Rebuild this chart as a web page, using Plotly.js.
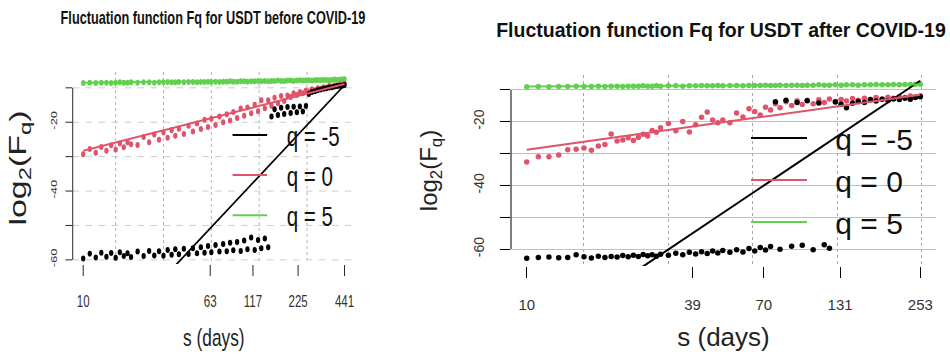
<!DOCTYPE html>
<html><head><meta charset="utf-8">
<script src="https://cdn.plot.ly/plotly-3.0.1.min.js"></script>
<style>
html,body{margin:0;padding:0;background:#fff;width:950px;height:358px;overflow:hidden;}
#left{position:absolute;left:0;top:0;width:555.6px;height:358px;transform:scaleX(0.72);transform-origin:0 0;}
#right{position:absolute;left:400px;top:0;width:550px;height:358px;}
</style></head><body>
<div id="left"></div><div id="right"></div>
<script>
// ---------- data: before COVID-19 ----------
const sBefore = [10,11,12,13,14,15,16,17,18,19,20,22,24,26,28,30,32,34,36,38,40,43,46,49,52,55,58,61,64,68,72,76,80,84,88,93,98,103,108,114,120,126,132,139,146,153,160,168,176,184,193,202,211,221,231,241,252,263,275,287,299,312,325,339,353,367,382,397,413,429,441];
const qNeg5Before = [-59.6,-58.2,-59.3,-57.9,-59.1,-58.0,-59.4,-57.8,-58.9,-58.1,-59.2,
 -57.6,-58.9,-57.4,-58.7,-57.5,-58.8,-57.1,-58.5,-56.9,-58.4,
 -56.8,-58.3,-56.6,-58.1,-56.3,-57.9,-56.0,
 -57.8,-55.7,-57.6,-55.4,-57.5,-55.0,-57.2,
 -54.8,-57.4,-54.4,-56.9,
 -53.5,-57.1,-54.2,-56.6,
 -53.8,-56.3,-18.3,-16.2,
 -17.9,-15.8,-17.6,
 -15.6,-17.3,-15.5,-17.1,-15.4,-16.9,-15.3,-11.8,-11.2,-11.0,-10.7,-10.5,-10.3,-10.1,-9.9,-9.8,-9.6,-9.5,-9.4,-9.3,-9.2];
const q0Before = [-29.3,-27.8,-28.9,-27.2,-28.3,-26.7,-27.9,-26.2,-27.3,-25.8,-26.4,
 -26.6,-24.3,-25.8,-23.6,-25.1,-23.0,-24.5,-22.3,-23.9,-21.9,
 -23.4,-21.0,-22.7,-20.4,-22.0,-19.3,-21.4,
 -19.0,-20.8,-18.3,-20.0,-17.7,-19.5,-17.0,
 -18.8,-16.0,-18.1,-15.7,
 -17.4,-14.9,-16.8,-13.6,
 -15.9,-13.6,-15.2,-12.9,
 -14.5,-12.4,-13.8,
 -12.2,-12.7,-11.6,-12.1,-11.2,-11.6,-10.8,-11.1,-10.4,-10.7,-10.1,-10.3,-9.8,-10.0,-9.5,-9.7,-9.3,-9.4,-9.0,-9.1,-8.8];
const q5Before = [-8.6,-8.5,-8.6,-8.5,-8.5,-8.6,-8.5,-8.4,-8.5,-8.5,-8.4,
 -8.5,-8.4,-8.4,-8.5,-8.4,-8.4,-8.3,-8.4,-8.4,-8.3,
 -8.4,-8.3,-8.3,-8.4,-8.3,-8.3,-8.2,
 -8.3,-8.2,-8.3,-8.2,-8.2,-8.1,-8.2,
 -8.2,-8.1,-8.1,-8.2,
 -8.1,-8.1,-8.0,-8.1,
 -8.0,-8.1,-8.0,-8.0,
 -7.9,-8.0,-8.0,
 -7.9,-7.9,-8.0,-7.9,-7.8,-7.9,-7.8,-7.8,-7.9,-7.8,-7.7,-7.8,-7.7,-7.7,-7.8,-7.7,-7.6,-7.7,-7.6,-7.6,-7.5];
const fitSBefore = [10, 441];
const fitNeg5Before = [-90.2, -9.2];
const fit0Before = [-28.3, -8.9];
const fit5Before = [-8.5, -7.6];
const xTicksBefore = [10, 63, 117, 225, 441];

// ---------- data: after COVID-19 ----------
const sAfter = [10,11,12,13,14,15,16,17,18,19,20,21,22,23,24,25,26,27,28,29,30,32,34,36,38,40,42,44,46,48,50,53,56,59,62,65,68,71,74,77,80,84,88,92,96,100,105,110,115,120,126,132,138,145,152,160,168,176,185,194,203,213,223,233,243,253];
const qNeg5After = [-62.9,-62.6,-62.5,-62.7,-62.6,-61.8,-62.4,-62.8,-62.2,-62.6,-62.3,-62.5,-62.0,-62.4,-61.9,-62.3,-61.7,-62.1,-61.8,-62.2,-61.6,
 -61.9,-61.3,-61.8,-61.0,-61.5,-60.8,-61.4,-60.6,-61.2,-60.4,
 -61.0,-60.2,-60.9,-59.8,-60.6,-59.5,-60.3,-59.2,-13.7,-60.0,
 -13.2,-59.1,-13.9,-58.8,-13.4,
 -60.2,-14.1,-58.6,-59.7,
 -13.8,-14.5,-15.6,
 -14.2,-13.6,-13.9,-13.1,-13.5,-12.9,-13.3,-12.8,-13.0,-12.6,-12.9,-12.4,-12.1];
const q0After = [-32.6,-31.0,-31.0,-30.4,-28.8,-28.6,-28.2,-28.9,-27.6,-27.1,-23.8,-26.0,-25.7,-25.0,-25.9,-24.9,-23.9,-24.5,-22.7,-23.3,-21.9,
 -20.5,-22.8,-19.9,-23.2,-20.9,-18.6,-16.9,-19.4,-20.3,-19.4,
 -20.3,-17.2,-18.5,-15.9,-16.8,-17.9,-15.4,-16.3,-14.3,-15.6,
 -13.7,-14.9,-13.4,-14.6,-13.2,
 -14.3,-13.1,-13.9,-12.8,
 -13.6,-13.0,-13.5,
 -12.7,-13.2,-12.6,-12.9,-12.4,-12.8,-12.3,-12.6,-12.1,-12.4,-11.9,-12.2,-11.8];
const q5After = [-9.0,-8.9,-9.0,-8.9,-8.9,-8.8,-8.9,-8.9,-8.8,-8.9,-8.8,-8.8,-8.9,-8.8,-8.8,-8.8,-8.7,-8.8,-8.8,-8.7,-8.8,
 -8.7,-8.7,-8.8,-8.7,-8.7,-8.6,-8.7,-8.7,-8.6,-8.7,
 -8.6,-8.6,-8.7,-8.6,-8.6,-8.6,-8.5,-8.6,-8.6,-8.5,
 -8.6,-8.5,-8.5,-8.6,-8.5,
 -8.5,-8.4,-8.5,-8.5,
 -8.4,-8.5,-8.4,
 -8.4,-8.5,-8.4,-8.4,-8.3,-8.4,-8.4,-8.3,-8.4,-8.3,-8.3,-8.2,-8.2];
const fitSAfter = [10, 253];
const fitNeg5After = [-89.9, -7.1];
const fit0After = [-28.8, -11.5];
const fit5After = [-8.9, -8.3];
const xTicksAfter = [10, 39, 70, 131, 253];

// ---------- shared axis data ----------
const yLabelTicks = [-20, -40, -60];
const yPlainTicks = [-10, -30, -50];
const gridS = [16, 32, 64, 128, 256, 512];
const seriesNames = ['q = -5', 'q = 0', 'q = 5'];
const COLORS = ['#000000', '#DF536B', '#61D04F'];
const FONT = 'Liberation Sans, Arial, Helvetica, sans-serif';
const LEG_PAD = '\u2002\u00A0';

function buildTraces(s, vals, fitS, fits, msize) {
  const tr = [];
  [2, 1, 0].forEach(i => tr.push({
    x: s, y: vals[i], type: 'scatter', mode: 'markers', showlegend: false,
    marker: {color: COLORS[i], size: msize}
  }));
  [0, 1, 2].forEach(i => tr.push({
    x: fitS, y: fits[i], type: 'scatter', mode: 'lines', name: LEG_PAD + seriesNames[i],
    legendgroup: 'g' + i, line: {color: COLORS[i], width: 2}
  }));
  return tr;
}

function buildLayout(o) {
  const gridY = {showgrid: true, gridcolor: o.hGridColor, griddash: o.hGridDash, gridwidth: 1};
  return {
    width: o.W, height: 358, paper_bgcolor: '#fff', plot_bgcolor: '#fff',
    margin: {l: o.l, r: o.r, t: o.t, b: o.b, pad: 0, autoexpand: false},
    showlegend: true,
    title: {text: o.title, x: o.titleX, xref: 'container', y: o.titleY, yref: 'container',
      xanchor: 'center', yanchor: 'middle', font: {family: FONT, size: o.titleSize, weight: 700, color: '#111'}},
    xaxis: {type: 'log', range: o.xr, tickmode: 'array', tickvals: o.xt, ticktext: o.xt.map(String),
      showgrid: false, zeroline: false, showline: false, ticks: 'outside', ticklen: 11, tickcolor: '#000',
      ticklabelstandoff: o.xStand, tickfont: {family: FONT, size: o.xtSize, color: '#333'},
      minor: {tickmode: 'array', tickvals: gridS, showgrid: true, gridcolor: '#a8a8a8', griddash: 'dot', gridwidth: 1, ticks: ''},
      title: {text: 's (days)', standoff: o.xTitleStand, font: {family: FONT, size: o.xTitleSize, color: '#222'}},
      automargin: false},
    yaxis: Object.assign({range: o.yr, tickmode: 'array', tickvals: yLabelTicks, ticktext: yLabelTicks.map(String), tickangle: -90,
      zeroline: false, showline: false, ticks: 'outside', ticklen: o.yTickLen, tickcolor: '#000',
      ticklabelstandoff: o.yStand, tickfont: {family: FONT, size: o.ytSize, color: '#333'},
      minor: Object.assign({tickmode: 'array', tickvals: yPlainTicks, ticks: 'outside', ticklen: o.yTickLen, tickcolor: '#000'}, gridY),
      title: {text: 'log<sub>2</sub>(F<sub>q</sub>)', standoff: o.yTitleStand, font: {family: FONT, size: o.yTitleSize, color: '#222'}},
      automargin: false}, gridY),
    legend: {x: o.legX, xref: 'container', y: o.legY, yref: 'container', xanchor: 'left', yanchor: 'top',
      bgcolor: 'rgba(0,0,0,0)', borderwidth: 0, font: {family: FONT, size: o.legSize, color: '#111'},
      tracegroupgap: o.legGap, itemwidth: o.legItemW, traceorder: 'normal'},
    shapes: [
      {type: 'line', xref: 'x domain', x0: 0, x1: 0, yref: 'y', y0: yPlainTicks[0], y1: yLabelTicks[yLabelTicks.length - 1], line: {color: '#000', width: 1}},
      {type: 'line', xref: 'x', x0: Math.log10(o.xt[0]), x1: Math.log10(o.xt[o.xt.length - 1]), yref: 'y domain', y0: 0, y1: 0, line: {color: '#000', width: 1}}
    ]
  };
}

const cfg = {staticPlot: true, displayModeBar: false};

Plotly.newPlot('left',
  buildTraces(sBefore, [qNeg5Before, q0Before, q5Before], fitSBefore, [fitNeg5Before, fit0Before, fit5Before], 6),
  buildLayout({W: 555.6, l: 101.4, r: 62.5, t: 72.2, b: 93.9,
    title: 'Fluctuation function Fq for USDT before COVID-19', titleX: 0.5325, titleY: 0.9497, titleSize: 17.7,
    xr: [0.934, 2.710], yr: [-61.2, -5.4], xt: xTicksBefore,
    xStand: 12, xtSize: 16, xTitleStand: 20, xTitleSize: 24,
    yTickLen: 9, yStand: 7, ytSize: 13, yTitleStand: 19, yTitleSize: 34,
    hGridColor: '#c4c4c4', hGridDash: 'dash',
    legX: 318 / 555.6, legY: 1 - 110 / 358, legSize: 28.5, legGap: 5, legItemW: 48}), cfg);

Plotly.newPlot('right',
  buildTraces(sAfter, [qNeg5After, q0After, q5After], fitSAfter, [fitNeg5After, fit0After, fit5After], 5.5),
  buildLayout({W: 550, l: 111.3, r: 14.3, t: 75, b: 92.2,
    title: 'Fluctuation function Fq for USDT after COVID-19', titleX: 0.5836, titleY: 0.9162, titleSize: 19.5,
    xr: [0.9439, 2.4591], yr: [-65.3, -5.3], xt: xTicksAfter,
    xStand: 14, xtSize: 15, xTitleStand: 15, xTitleSize: 26,
    yTickLen: 10, yStand: 10, ytSize: 14, yTitleStand: 27, yTitleSize: 24,
    hGridColor: '#c0c0c0', hGridDash: 'solid',
    legX: 346 / 550, legY: 1 - 112 / 358, legSize: 30, legGap: 4, legItemW: 56}), cfg);
</script>
</body></html>
